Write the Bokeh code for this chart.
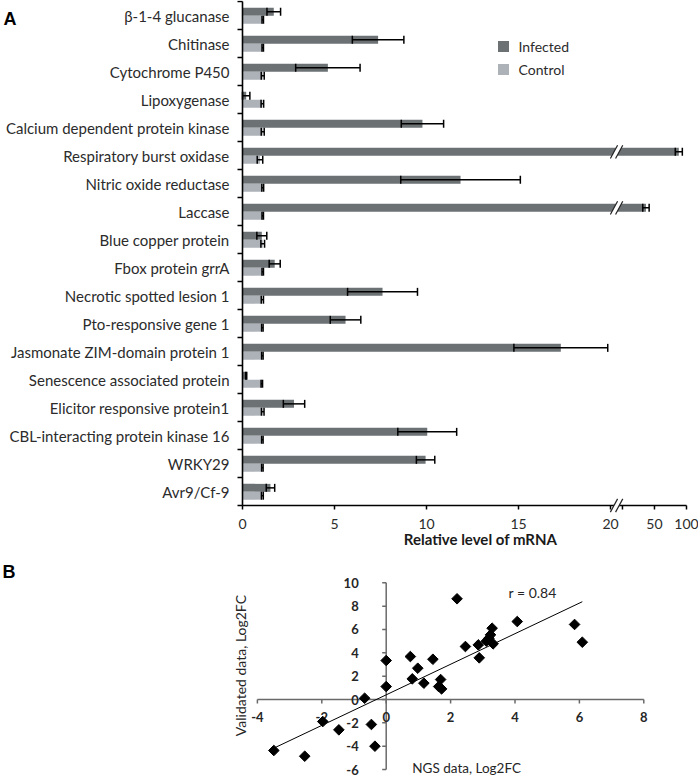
import numpy as np
from bokeh.plotting import figure
from bokeh.models import Range1d, Whisker, TeeHead, ColumnDataSource
from bokeh.layouts import column
from bokeh.embed import file_html
from bokeh.resources import INLINE
from bokeh.core.properties import value

# ---------------- data: panel A ----------------
genes = ["β-1-4 glucanase", "Chitinase", "Cytochrome P450", "Lipoxygenase",
         "Calcium dependent protein kinase", "Respiratory burst oxidase",
         "Nitric oxide reductase", "Laccase", "Blue copper protein", "Fbox protein grrA",
         "Necrotic spotted lesion 1", "Pto-responsive gene 1",
         "Jasmonate ZIM-domain protein 1", "Senescence associated protein",
         "Elicitor responsive protein1", "CBL-interacting protein kinase 16",
         "WRKY29", "Avr9/Cf-9"]
infected = [1.70, 7.37, 4.64, 0.20, 9.78, 88.0, 11.85, 42.0, 1.05, 1.75,
            7.61, 5.60, 17.30, 0.20, 2.80, 10.04, 9.95, 1.52]
infected_err = [0.37, 1.40, 1.75, 0.20, 1.15, 5.5, 3.25, 3.0, 0.27, 0.30,
                1.90, 0.83, 2.55, 0.03, 0.58, 1.60, 0.50, 0.23]
control = [1.10, 1.10, 1.10, 1.08, 1.10, 0.95, 1.10, 1.10, 1.10, 1.10,
           1.08, 1.08, 1.08, 1.05, 1.10, 1.08, 1.08, 1.08]
control_err = [0.04, 0.04, 0.08, 0.07, 0.08, 0.15, 0.05, 0.04, 0.10, 0.04,
               0.06, 0.04, 0.04, 0.04, 0.07, 0.04, 0.04, 0.05]
series_names = ["Infected", "Control"]
x_tick_values = [0, 5, 10, 15, 20, 50, 100]
x_tick_labels = ["0", "5", "10", "15", "20", "50", "100"]

# ---------------- data: panel B ----------------
ngs_log2fc = [-3.49, -2.53, -1.97, -1.47, -0.67, -0.46, -0.35, 0.00, 0.00, 0.75,
              0.81, 0.98, 1.17, 1.45, 1.69, 1.63, 1.72, 2.20, 2.46, 2.86,
              2.89, 3.11, 3.19, 3.24, 3.29, 3.32, 4.07, 5.85, 6.09]
validated_log2fc = [-4.37, -4.86, -1.89, -2.60, 0.11, -2.14, -4.00, 3.34, 1.11, 3.68,
                    1.77, 2.68, 1.40, 3.45, 1.71, 1.11, 0.91, 8.63, 4.54, 4.68,
                    3.57, 5.00, 5.25, 5.54, 6.11, 4.77, 6.68, 6.43, 4.91]
fit_slope = 1.31
fit_intercept = 0.40
r_value = 0.84
b_x_ticks = [-4, -2, 0, 2, 4, 6, 8]
b_y_ticks = [-6, -4, -2, 0, 2, 4, 6, 8, 10]

INF_COLOR = "#6c7174"
CTL_COLOR = "#adb2b9"
FONT = "Lato"
TXT = "#2b2b2b"


# broken axis: linear 0-20, then compressed 20-50 and 50-100 segments
def disp(v):
    v = np.asarray(v, dtype=float)
    return np.where(v <= 20, v,
                    np.where(v <= 50, 20.65 + (v - 20) / 30 * 1.74,
                             22.39 + (v - 50) / 50 * 1.74))


# ================= panel A (frame = whole figure, axes drawn by hand) =================
WA, HA = 698, 550
n = len(genes)
sxA = 18.4                      # px per display unit
syA = 504.0 / n                 # px per category
xA0 = -242.0 / sxA              # x = 0 at 242px
yA1 = n + 1.0 / syA             # top boundary 1px below figure top
pA = figure(width=WA, height=HA, x_range=Range1d(xA0, xA0 + WA / sxA),
            y_range=Range1d(yA1 - HA / syA, yA1), output_backend="svg",
            toolbar_location=None, x_axis_location=None, y_axis_location=None,
            min_border=0)
pA.outline_line_color = None
pA.grid.visible = False

centers = [n - 0.5 - i for i in range(n)]
y_inf = [c + 0.13 for c in centers]
y_ctl = [c - 0.15 for c in centers]
bar_h = 0.285

inf = np.array(infected); inf_e = np.array(infected_err)
ctl = np.array(control); ctl_e = np.array(control_err)
src_inf = ColumnDataSource(dict(y=y_inf, right=disp(inf), lo=disp(inf - inf_e), hi=disp(inf + inf_e)))
src_ctl = ColumnDataSource(dict(y=y_ctl, right=disp(ctl), lo=disp(ctl - ctl_e), hi=disp(ctl + ctl_e)))

pA.hbar(y="y", right="right", left=0, height=bar_h, source=src_inf,
        fill_color=INF_COLOR, line_color=None)
pA.hbar(y="y", right="right", left=0, height=bar_h, source=src_ctl,
        fill_color=CTL_COLOR, line_color=None)

for s in (src_inf, src_ctl):
    pA.add_layout(Whisker(source=s, base="y", lower="lo", upper="hi", dimension="width",
                          line_color="black", line_width=1.5, level="annotation",
                          upper_head=TeeHead(size=8, line_width=1.5, line_color="black"),
                          lower_head=TeeHead(size=8, line_width=1.5, line_color="black")))

# break marks ("//")
brk = 20.33
bx_l, by_l, wp_x, wp_y = [], [], [], []


def add_break(xc, yc):
    dx, dy, gap = 3.6 / sxA, 6.6 / syA, 2.6 / sxA
    wp_x.append([xc - gap - dx, xc + gap - dx, xc + gap + dx, xc - gap + dx])
    wp_y.append([yc - dy, yc - dy, yc + dy, yc + dy])
    for g in (-gap, gap):
        bx_l.append([xc + g - dx, xc + g + dx])
        by_l.append([yc - dy, yc + dy])


for yc, v in zip(y_inf, infected):
    if v > 20:
        add_break(brk, yc)
add_break(brk, 0)

# axis lines
x_end = float(disp(max(x_tick_values)))
pA.segment(x0=[0, 0], y0=[0, 0], x1=[0, x_end], y1=[n, 0], line_color="black", line_width=1.6)
bounds = list(range(n + 1))
pA.segment(x0=[0] * len(bounds), y0=bounds, x1=[-5 / sxA] * len(bounds), y1=bounds,
           line_color="black", line_width=1.5)
xt = [float(t) for t in disp(x_tick_values)]
xt_all = xt + [20.65]
pA.segment(x0=xt_all, y0=[0] * len(xt_all), x1=xt_all, y1=[-4 / syA] * len(xt_all),
           line_color="black", line_width=1.5)

pA.patches(wp_x, wp_y, fill_color="white", line_color=None)
pA.multi_line(bx_l, by_l, line_color="#222222", line_width=1.2)

# category labels and tick labels
pA.text(x=[-13 / sxA] * n, y=centers, text=genes, text_align="right", text_baseline="middle",
        text_font=value(FONT), text_font_size="15px", text_color=TXT)
pA.text(x=xt, y=[-18 / syA] * len(xt), text=x_tick_labels, text_align="center",
        text_baseline="middle", text_font=value(FONT), text_font_size="14px", text_color=TXT)
pA.text(x=[238 / sxA], y=[-33 / syA], text=["Relative level of mRNA"], text_align="center",
        text_baseline="middle", text_font=value(FONT), text_font_style="bold",
        text_font_size="15px", text_color="#1a1a1a")
pA.text(x=[xA0 + 3 / sxA], y=[yA1 - 18 / syA], text=["A"], text_align="left",
        text_baseline="middle", text_font=value("Liberation Sans"), text_font_style="bold",
        text_font_size="18px", text_color="black")

# legend (drawn by hand)
leg_x = 261 / sxA
leg_y = [yA1 - 46 / syA, yA1 - 69 / syA]
pA.rect(x=[leg_x] * 2, y=leg_y, width=11, height=11, width_units="screen",
        height_units="screen", fill_color=[INF_COLOR, CTL_COLOR], line_color=None)
pA.text(x=[leg_x + 15 / sxA] * 2, y=leg_y, text=series_names, text_align="left",
        text_baseline="middle", text_font=value(FONT), text_font_size="14px", text_color=TXT)

# ================= panel B =================
WB, HB = 698, 228
sx, sy = 32.2, 11.67
x0 = -385.7 / sx
y1 = 149 / sy                   # y = 0 at 149px below the top of this figure
pB = figure(width=WB, height=HB, x_range=Range1d(x0, x0 + WB / sx),
            y_range=Range1d(y1 - HB / sy, y1), output_backend="svg", toolbar_location=None,
            x_axis_location=None, y_axis_location=None, min_border=0)
pB.outline_line_color = None
pB.grid.visible = False

AX = "#6a6a6a"
pB.segment(x0=[min(b_x_ticks), 0], y0=[0, min(b_y_ticks)],
           x1=[max(b_x_ticks), 0], y1=[0, max(b_y_ticks)], line_color=AX, line_width=1.5)
pB.segment(x0=b_x_ticks, y0=[0] * len(b_x_ticks), x1=b_x_ticks,
           y1=[-4 / sy] * len(b_x_ticks), line_color=AX, line_width=1.5)
pB.segment(x0=[0] * len(b_y_ticks), y0=b_y_ticks, x1=[-4 / sx] * len(b_y_ticks),
           y1=b_y_ticks, line_color=AX, line_width=1.5)
pB.text(x=b_x_ticks, y=[-17 / sy] * len(b_x_ticks), text=[str(t) for t in b_x_ticks],
        text_align="center", text_baseline="middle", text_font=value(FONT),
        text_font_style="bold", text_font_size="13px", text_color="#262626")
pB.text(x=[-27.5 / sx] * len(b_y_ticks), y=b_y_ticks, text=[str(t) for t in b_y_ticks],
        text_align="right", text_baseline="middle", text_font=value(FONT),
        text_font_style="bold", text_font_size="13px", text_color="#262626")

lx = np.array([min(ngs_log2fc), max(ngs_log2fc)])
pB.line(x=lx, y=fit_slope * lx + fit_intercept, line_color="black", line_width=1)
pB.scatter(x=ngs_log2fc, y=validated_log2fc, marker="square", angle=np.pi / 4, size=7.5,
           fill_color="black", line_color="black")

pB.text(x=[3.8], y=[9.17], text=[f"r = {r_value}"], text_align="left", text_baseline="middle",
        text_font=value(FONT), text_font_size="14px", text_color="#262626")
pB.text(x=[0.81], y=[(699 - 767) / sy], text=["NGS data, Log2FC"], text_align="left",
        text_baseline="middle", text_font=value(FONT), text_font_size="13.5px",
        text_color="#262626")
pB.text(x=[-4.52], y=[2.91], text=["Validated data, Log2FC"], angle=np.pi / 2,
        text_align="center", text_baseline="middle", text_font=value(FONT),
        text_font_size="14px", text_color="#262626")
pB.text(x=[x0 + 2 / sx], y=[(699 - 571) / sy], text=["B"], text_align="left",
        text_baseline="middle", text_font=value("Liberation Sans"), text_font_style="bold",
        text_font_size="18px", text_color="black")

layout = column(pA, pB, spacing=0)
open("out.html", "w").write(file_html(layout, INLINE))
